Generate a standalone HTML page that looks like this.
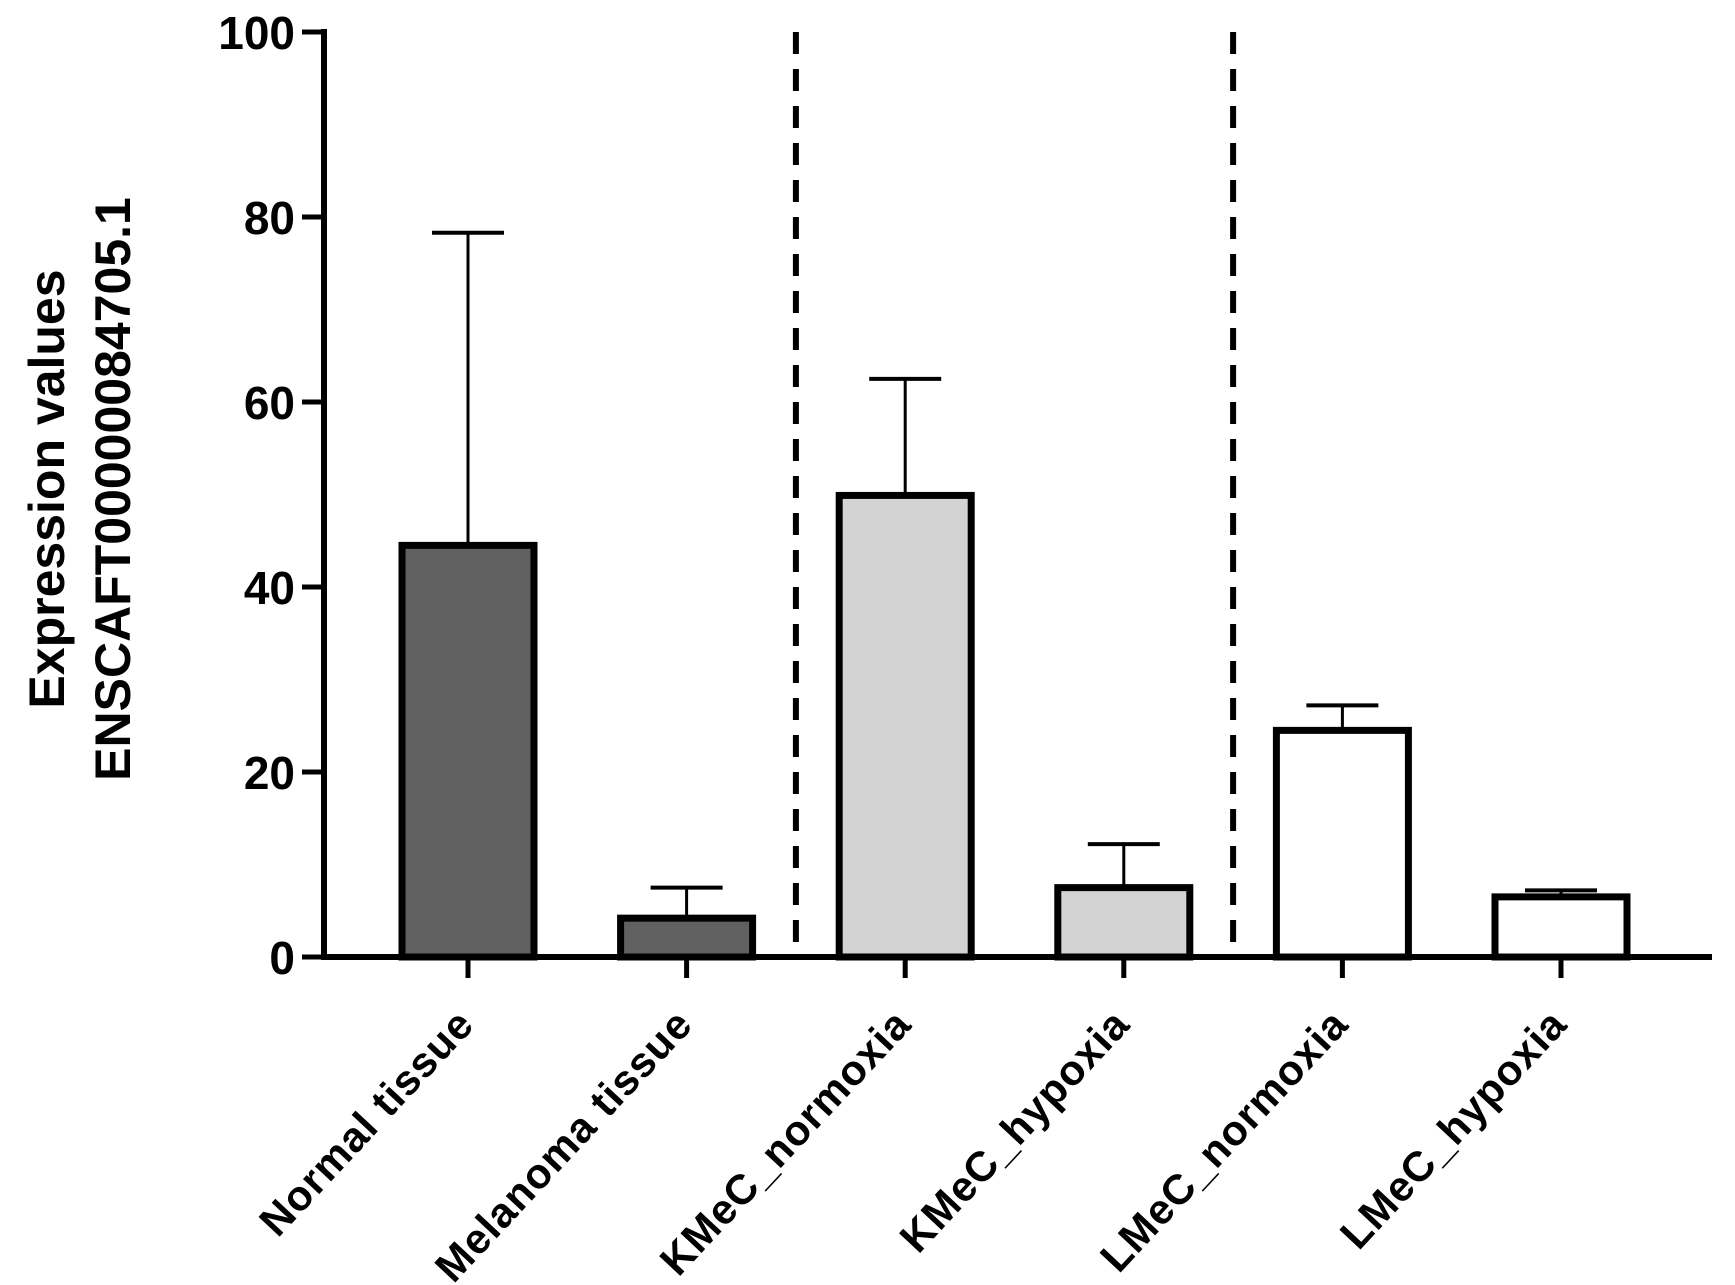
<!DOCTYPE html>
<html><head><meta charset="utf-8"><style>
body{margin:0;background:#fff;}
svg{display:block;font-family:"Liberation Sans",Arial,sans-serif;font-weight:bold;}
</style></head><body>
<svg id="chart" width="1735" height="1285" viewBox="0 0 1735 1285" xmlns="http://www.w3.org/2000/svg">
<g id="ylab">
<text transform="translate(64,489) rotate(-90)" text-anchor="middle" font-size="50" fill="#000">Expression values</text>
<text transform="translate(130,489) rotate(-90)" text-anchor="middle" font-size="50" fill="#000">ENSCAFT00000084705.1</text>
</g>
<g id="marks"></g>
</svg>
<script>
const categories = ["Normal tissue","Melanoma tissue","KMeC_normoxia","KMeC_hypoxia","LMeC_normoxia","LMeC_hypoxia"];
const means = [44.5, 4.2, 49.9, 7.5, 24.5, 6.5];
const errors = [78.3, 7.5, 62.5, 12.2, 27.2, 7.2];
const fills = ["#606060","#606060","#d3d3d3","#d3d3d3","#ffffff","#ffffff"];
const yTicks = [0,20,40,60,80,100];
const dividers = [1.5, 3.5];

const NS="http://www.w3.org/2000/svg";
const g=document.getElementById('marks');
const y0=957, y100=32, x0=324, xStep=218.6, xFirst=468;
const yScale=v=>y0-(v/100)*(y0-y100);
const xScale=i=>xFirst+i*xStep;
function mk(tag,attrs){const e=document.createElementNS(NS,tag);for(const k in attrs)e.setAttribute(k,attrs[k]);g.appendChild(e);return e;}

dividers.forEach(d=>{
  const l=mk('line',{x1:xScale(d),x2:xScale(d),y1:y100,y2:y0,stroke:'#000','stroke-width':6,'stroke-dasharray':'22 15'});
  
  
});
categories.forEach((c,i)=>{
  const cx=xScale(i), w=132;
  const eb=mk('g',{});
  
  
  const ln1=mk('line',{x1:cx,x2:cx,y1:yScale(means[i]),y2:yScale(errors[i]),stroke:'#000','stroke-width':3});
  const ln2=mk('line',{x1:cx-36,x2:cx+36,y1:yScale(errors[i]),y2:yScale(errors[i]),stroke:'#000','stroke-width':4});
  eb.appendChild(ln1);eb.appendChild(ln2);
  const r=mk('rect',{x:cx-w/2,y:yScale(means[i]),width:w,height:y0-yScale(means[i]),fill:fills[i],stroke:'#000','stroke-width':7});
  
  
  const t=mk('line',{x1:cx,x2:cx,y1:y0,y2:978,stroke:'#000','stroke-width':5});
  
  
  const tx=mk('text',{transform:`translate(${cx+8},${1026}) rotate(-47)`,'text-anchor':'end','font-size':42,'letter-spacing':1,fill:'#000'});
  tx.textContent=c;
  
  
});
const ya=mk('line',{x1:x0,x2:x0,y1:y100-3,y2:y0+3,stroke:'#000','stroke-width':6});


const xa=mk('line',{x1:x0-3,x2:1712,y1:y0,y2:y0,stroke:'#000','stroke-width':6});


yTicks.forEach(v=>{
  const t=mk('line',{x1:302,x2:x0,y1:yScale(v),y2:yScale(v),stroke:'#000','stroke-width':5});
  
  
  const tx=mk('text',{x:295,y:yScale(v)+17,'text-anchor':'end','font-size':46,fill:'#000'});
  tx.textContent=v;
  
  
});
</script>
</body></html>
